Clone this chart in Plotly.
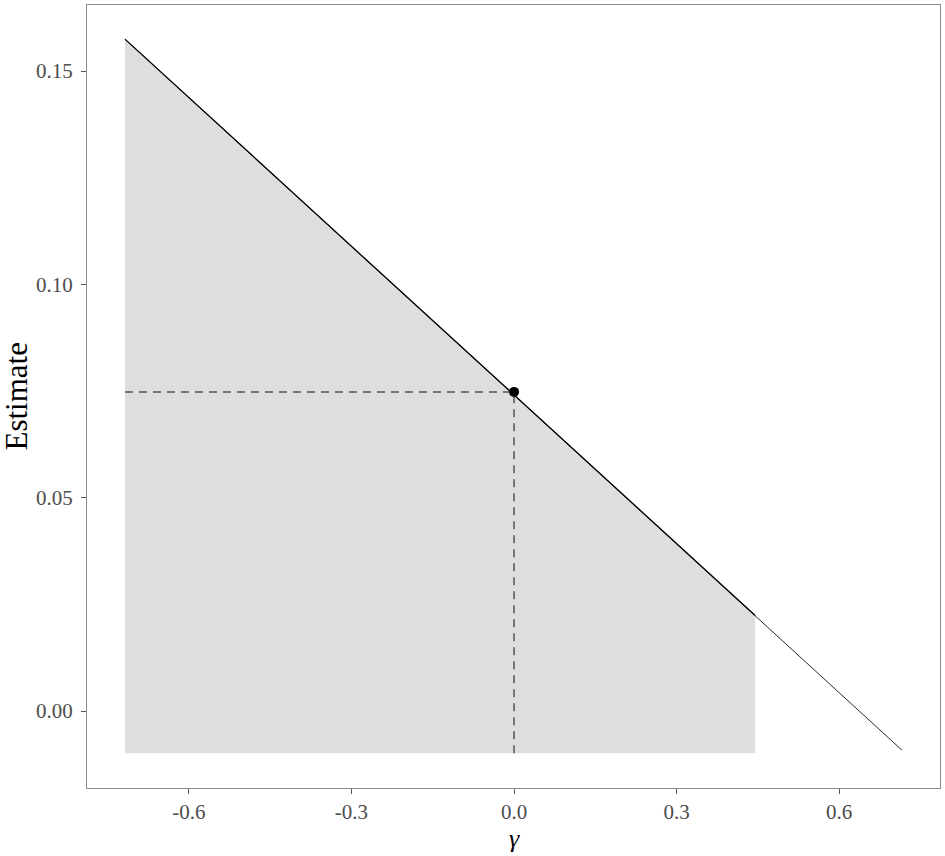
import plotly.graph_objects as go

# Data
gamma_line = [-0.718, 0.716]
est_line = [0.1575, -0.0092]
shade_x = [-0.718, 0.445]
shade_top = [0.1575, 0.0224]
shade_floor = -0.0099
point_gamma = [0.0]
point_est = [0.0748]
x_ticks = [-0.6, -0.3, 0.0, 0.3, 0.6]
x_tick_labels = ["-0.6", "-0.3", "0.0", "0.3", "0.6"]
y_ticks = [0.00, 0.05, 0.10, 0.15]
y_tick_labels = ["0.00", "0.05", "0.10", "0.15"]

FONT = "Liberation Serif"

fig = go.Figure()

# shaded region polygon
poly_x = [shade_x[0], shade_x[1], shade_x[1], shade_x[0], shade_x[0]]
poly_y = [shade_top[0], shade_top[1], shade_floor, shade_floor, shade_top[0]]
fig.add_trace(go.Scatter(x=poly_x, y=poly_y, mode="lines", fill="toself",
                         fillcolor="#dedede", line=dict(width=0),
                         hoverinfo="skip", showlegend=False))

# full thin line
fig.add_trace(go.Scatter(x=gamma_line, y=est_line, mode="lines",
                         line=dict(color="#2a2a2a", width=1),
                         showlegend=False))
# upper edge of shading (darker overlap)
fig.add_trace(go.Scatter(x=shade_x, y=shade_top, mode="lines",
                         line=dict(color="#000000", width=1.3),
                         showlegend=False))

# dashed guide lines
fig.add_trace(go.Scatter(x=[gamma_line[0], point_gamma[0]], y=[point_est[0], point_est[0]],
                         mode="lines", line=dict(color="#555555", width=1.5, dash="8px,6px"),
                         showlegend=False))
fig.add_trace(go.Scatter(x=[point_gamma[0], point_gamma[0]], y=[shade_floor, point_est[0]],
                         mode="lines", line=dict(color="#555555", width=1.5, dash="8px,6px"),
                         showlegend=False))

# point
fig.add_trace(go.Scatter(x=point_gamma, y=point_est, mode="markers",
                         marker=dict(color="black", size=10),
                         showlegend=False))

axis_common = dict(showgrid=False, zeroline=False, showline=True, mirror=True,
                   linecolor="#8c8c8c", linewidth=1.2, ticks="outside",
                   ticklen=5, tickcolor="#555555", tickwidth=1, automargin=False,
                   tickfont=dict(family=FONT, size=21, color="#4d4d4d"))

fig.update_layout(
    width=945, height=856,
    margin=dict(l=87, r=5, t=5, b=68),
    paper_bgcolor="white", plot_bgcolor="white",
    xaxis=dict(range=[-0.788, 0.786], tickvals=x_ticks, ticktext=x_tick_labels,
               **axis_common),
    yaxis=dict(range=[-0.01805, 0.1655], tickvals=y_ticks, ticktext=y_tick_labels,
               ticklabelstandoff=4, **axis_common),
    annotations=[
        dict(text="<i>γ</i>", xref="paper", yref="paper", x=0.5012, y=0,
             yshift=-50, showarrow=False, yanchor="middle", borderpad=0,
             font=dict(family=FONT, size=26, color="black")),
        dict(text="Estimate", xref="paper", yref="paper", x=0, y=0.5,
             xshift=-71, textangle=-90, showarrow=False, xanchor="center",
             font=dict(family=FONT, size=31, color="black")),
    ],
)

fig.write_html("out.html", config={"displayModeBar": False},
               post_script="document.body.style.margin='0';document.body.style.padding='0';")
